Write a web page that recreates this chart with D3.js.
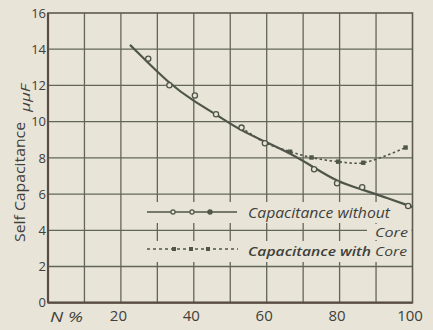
<!DOCTYPE html>
<html>
<head>
<meta charset="utf-8">
<script src="https://cdn.jsdelivr.net/npm/d3@7"></script>
<style>
  html, body { margin: 0; padding: 0; background: #e8e4d8; }
  svg { display: block; }
  text { font-family: "Open Sans", "DejaVu Sans", sans-serif; fill: #3f403a; }
</style>
</head>
<body>
<svg id="chart" width="433" height="330"></svg>
<script>
// Turns ratio N (%) and self capacitance (µµF)
const xTicks = [20, 40, 60, 80, 100];
const yTicks = [0, 2, 4, 6, 8, 10, 12, 14, 16];

// Measured points, coil without core
const measuredN = [27.5, 33.3, 40.3, 46.1, 53.1, 59.5, 73.0, 79.3, 86.2, 98.8];
const measuredC = [13.48, 12.01, 11.44, 10.41, 9.67, 8.81, 7.37, 6.60, 6.38, 5.34];

// Smoothed curve drawn through the measurements
const fittedN = [22.5, 33.5, 40.3, 46.3, 52.6, 59.5, 66.4, 72.7, 79.2, 86.5, 91.9, 98.4, 100];
const fittedC = [14.24, 12.03, 11.10, 10.37, 9.54, 8.90, 8.25, 7.51, 6.69, 6.23, 5.86, 5.40, 5.29];

// Coil with core
const coreN = [53.1, 59.5, 66.4, 72.3, 79.6, 86.5, 98.1];
const coreC = [9.67, 8.85, 8.34, 8.02, 7.79, 7.73, 8.57];

const svg = d3.select("#chart");
const ink = "#4f5649";
const gridInk = "#62665a";
const paper = "#e8e4d8";

const x = d3.scaleLinear().domain([0, 100]).range([48, 412.5]);
const y = d3.scaleLinear().domain([0, 16]).range([302.7, 13]);

// grid
const grid = svg.append("g");
grid.selectAll("line.v").data(d3.range(10, 100, 10)).join("line")
  .attr("x1", d => x(d)).attr("x2", d => x(d))
  .attr("y1", y(16)).attr("y2", y(0))
  .attr("stroke", gridInk).attr("stroke-width", 1.3);
grid.selectAll("line.h").data(d3.range(2, 16, 2)).join("line")
  .attr("x1", x(0)).attr("x2", x(100))
  .attr("y1", d => y(d)).attr("y2", d => y(d))
  .attr("stroke", gridInk).attr("stroke-width", 1.3);

// legend panel masks the grid behind its rows
svg.append("rect").attr("x", x(0) + 96).attr("y", 202).attr("width", x(100) - x(0) - 97).attr("height", 21).attr("fill", paper);
svg.append("rect").attr("x", x(0) + 96).attr("y", 241).attr("width", x(100) - x(0) - 97).attr("height", 21).attr("fill", paper);
svg.append("rect").attr("x", 367).attr("y", 224).attr("width", 44.5).attr("height", 16).attr("fill", paper);

// frame
svg.append("rect")
  .attr("x", x(0)).attr("y", y(16))
  .attr("width", x(100) - x(0)).attr("height", y(0) - y(16))
  .attr("fill", "none").attr("stroke", "#5e5a50").attr("stroke-width", 1.6);
svg.append("line").attr("x1", x(0)).attr("x2", x(0)).attr("y1", y(16)).attr("y2", y(0))
  .attr("stroke", "#5a4c44").attr("stroke-width", 2.2);
svg.append("line").attr("x1", x(0)).attr("x2", x(100)).attr("y1", y(0)).attr("y2", y(0))
  .attr("stroke", "#5a4c44").attr("stroke-width", 2.2);

// axis labels via d3 axes, with their domain and tick marks hidden
const yAxis = svg.append("g").attr("transform", `translate(${x(0) - 1},0)`)
  .call(d3.axisLeft(y).tickValues(yTicks).tickSize(0).tickPadding(1).tickFormat(d3.format("d")));
yAxis.select(".domain").remove();
yAxis.selectAll("text").style("font-size", "13px").style("font-family", "Open Sans, sans-serif")
  .attr("fill", "#3f403a");

const xAxis = svg.append("g").attr("transform", `translate(-3,${y(0)})`)
  .call(d3.axisBottom(x).tickValues(xTicks).tickSize(0).tickPadding(8).tickFormat(d3.format("d")));
xAxis.select(".domain").remove();
xAxis.selectAll("text").style("font-size", "15px").style("font-family", "Open Sans, sans-serif")
  .attr("fill", "#3f403a");

svg.append("text").attr("x", 50).attr("y", 322)
  .attr("textLength", 33).attr("lengthAdjust", "spacingAndGlyphs")
  .style("font-size", "15px").style("font-style", "italic").text("N %");

// y title
svg.append("text")
  .attr("transform", "translate(25,242) rotate(-90)")
  .attr("textLength", 120).attr("lengthAdjust", "spacingAndGlyphs")
  .style("font-size", "14px").text("Self Capacitance");
svg.append("text")
  .attr("transform", "translate(30,112) rotate(-90)")
  .attr("textLength", 28).attr("lengthAdjust", "spacingAndGlyphs")
  .style("font-size", "13px").style("font-style", "italic").text("μμF");

// curves
const coreLine = d3.line().x(d => x(d[0])).y(d => y(d[1])).curve(d3.curveCatmullRom);
const fitLine = d3.line().x(d => x(d[0])).y(d => y(d[1])).curve(d3.curveBasis);

const corePts = coreN.map((n, i) => [n, coreC[i]]);
svg.append("path").datum(corePts)
  .attr("d", coreLine)
  .attr("fill", "none").attr("stroke", ink).attr("stroke-width", 1.6)
  .attr("stroke-dasharray", "2.5,2.5");

const fitPts = fittedN.map((n, i) => [n, fittedC[i]]);
svg.append("path").datum(fitPts)
  .attr("d", fitLine)
  .attr("fill", "none").attr("stroke", ink).attr("stroke-width", 2.2);

svg.selectAll("circle.m").data(measuredN.map((n, i) => [n, measuredC[i]])).join("circle")
  .attr("cx", d => x(d[0])).attr("cy", d => y(d[1])).attr("r", 2.6)
  .attr("fill", paper).attr("stroke", ink).attr("stroke-width", 1.3);

svg.selectAll("rect.c").data(corePts.slice(2)).join("rect")
  .attr("x", d => x(d[0]) - 2.2).attr("y", d => y(d[1]) - 2.2)
  .attr("width", 4.4).attr("height", 4.4).attr("fill", ink);

// legend
svg.append("line").attr("x1", 147).attr("x2", 237).attr("y1", 212).attr("y2", 212)
  .attr("stroke", ink).attr("stroke-width", 1.5);
svg.selectAll("circle.l").data([173, 192, 210]).join("circle")
  .attr("cx", d => d).attr("cy", 212).attr("r", 2.1)
  .attr("fill", (d, i) => i === 2 ? ink : paper).attr("stroke", ink).attr("stroke-width", 1.2);
svg.append("text").attr("x", 248).attr("y", 218)
  .attr("textLength", 142).attr("lengthAdjust", "spacingAndGlyphs")
  .style("font-size", "14px").style("font-style", "italic").text("Capacitance without");
svg.append("text").attr("x", 375).attr("y", 237)
  .attr("textLength", 33).attr("lengthAdjust", "spacingAndGlyphs")
  .style("font-size", "13px").style("font-style", "italic").text("Core");

svg.append("line").attr("x1", 147).attr("x2", 238).attr("y1", 249).attr("y2", 249)
  .attr("stroke", ink).attr("stroke-width", 1.3).attr("stroke-dasharray", "3,3");
svg.selectAll("rect.l").data([174, 191, 208]).join("rect")
  .attr("x", d => d - 2).attr("y", 247).attr("width", 4).attr("height", 4).attr("fill", ink);
const t2 = svg.append("text").attr("x", 248).attr("y", 256)
  .attr("textLength", 159).attr("lengthAdjust", "spacingAndGlyphs")
  .style("font-size", "13px").style("font-style", "italic");
t2.append("tspan").style("font-weight", "600").text("Capacitance with");
t2.append("tspan").text(" Core");
</script>
</body>
</html>
